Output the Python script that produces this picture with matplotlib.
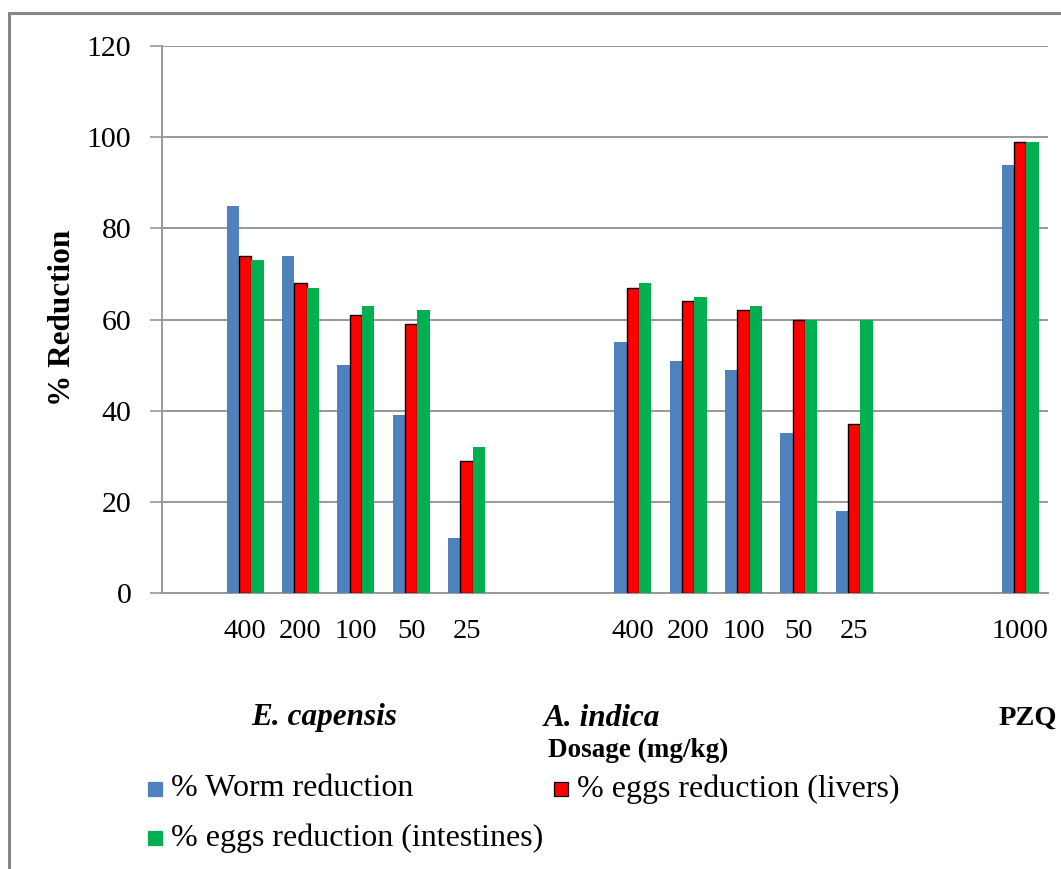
import numpy as np
import matplotlib.pyplot as plt
from matplotlib.patches import Rectangle

plt.rcParams['font.family'] = ['Liberation Serif', 'DejaVu Serif']

# dosage categories (blank slots separate the three treatment groups)
dosage = ["", "400", "200", "100", "50", "25", "", "",
          "400", "200", "100", "50", "25", "", "", "1000"]
nan = np.nan
worm = [nan, 85, 74, 50, 39, 12, nan, nan, 55, 51, 49, 35, 18, nan, nan, 94]
eggs_liver = [nan, 74, 68, 61, 59, 29, nan, nan, 67, 64, 62, 60, 37, nan, nan, 99]
eggs_intest = [nan, 73, 67, 63, 62, 32, nan, nan, 68, 65, 63, 60, 60, nan, nan, 99]

groups = ["E. capensis", "A. indica", "PZQ"]
series_names = ["% Worm reduction", "% eggs reduction (livers)",
                "% eggs reduction (intestines)"]
colors = ["#4F81BD", "#FF0000", "#00B050"]

W, H = 1061, 869
fig = plt.figure(figsize=(W/100, H/100), dpi=100)
ax = fig.add_axes([162/W, 1-593/H, (1048-162)/W, (593-46)/H])

x = np.arange(len(dosage))
w = 0.222
ax.bar(x - w, worm, w, color=colors[0], zorder=3)
ax.bar(x, eggs_liver, w, color=colors[1], edgecolor="black", linewidth=1.0, zorder=3)
ax.bar(x + w, eggs_intest, w, color=colors[2], zorder=3)

ax.set_xlim(-0.5, len(dosage) - 0.5)
ax.set_ylim(0, 120)
ax.set_yticks(np.arange(0, 121, 20))
ax.yaxis.grid(True, color="#989898", linewidth=1.4, zorder=0)
ax.set_xticks(x)
ax.set_xticklabels(dosage, fontsize=20.5)
ax.tick_params(axis="x", length=0, pad=19)
ax.tick_params(axis="y", labelsize=21.5, length=9, width=1.2, color="#989898", pad=13)
for s in ["top", "right"]:
    ax.spines[s].set_visible(False)
for s in ["left", "bottom"]:
    ax.spines[s].set_color("#989898")
    ax.spines[s].set_linewidth(1.4)

fig.text(63/W, 1-318/H, "% Reduction", fontsize=22.5, fontweight="bold",
         rotation=90, ha="center", va="center")

# group names under the dosage labels
fig.text(324/W, 1-718/H, groups[0], fontsize=22.5, fontweight="bold",
         style="italic", ha="center", va="center")
fig.text(602/W, 1-718/H, groups[1], fontsize=22.5, fontweight="bold",
         style="italic", ha="center", va="center")
fig.text(1057/W, 1-718/H, groups[2], fontsize=20.5, fontweight="bold",
         ha="right", va="center")
fig.text(638/W, 1-750/H, "Dosage (mg/kg)", fontsize=19.5,
         fontweight="bold", ha="center", va="center")

# legend drawn by hand: two entries on the first row, one below
leg_pos = [(148, 789), (554, 789), (148, 838)]
for name, c, (lx, ly) in zip(series_names, colors, leg_pos):
    ec = "black" if c == "#FF0000" else c
    fig.patches.append(Rectangle((lx/W, 1-(ly+7)/H), 14/W, 14/H,
                                 facecolor=c, edgecolor=ec, linewidth=0.9,
                                 transform=fig.transFigure, figure=fig))
    fig.text((lx+23)/W, 1-ly/H, name, fontsize=23, ha="left", va="center")

# chart frame
fig.patches.append(Rectangle((9/W, -0.01), 1.02, 1-13/H+0.01, fill=False,
                             edgecolor="#868686", linewidth=2.2,
                             transform=fig.transFigure, figure=fig))

fig.savefig("out.png", dpi=100, facecolor="white")
